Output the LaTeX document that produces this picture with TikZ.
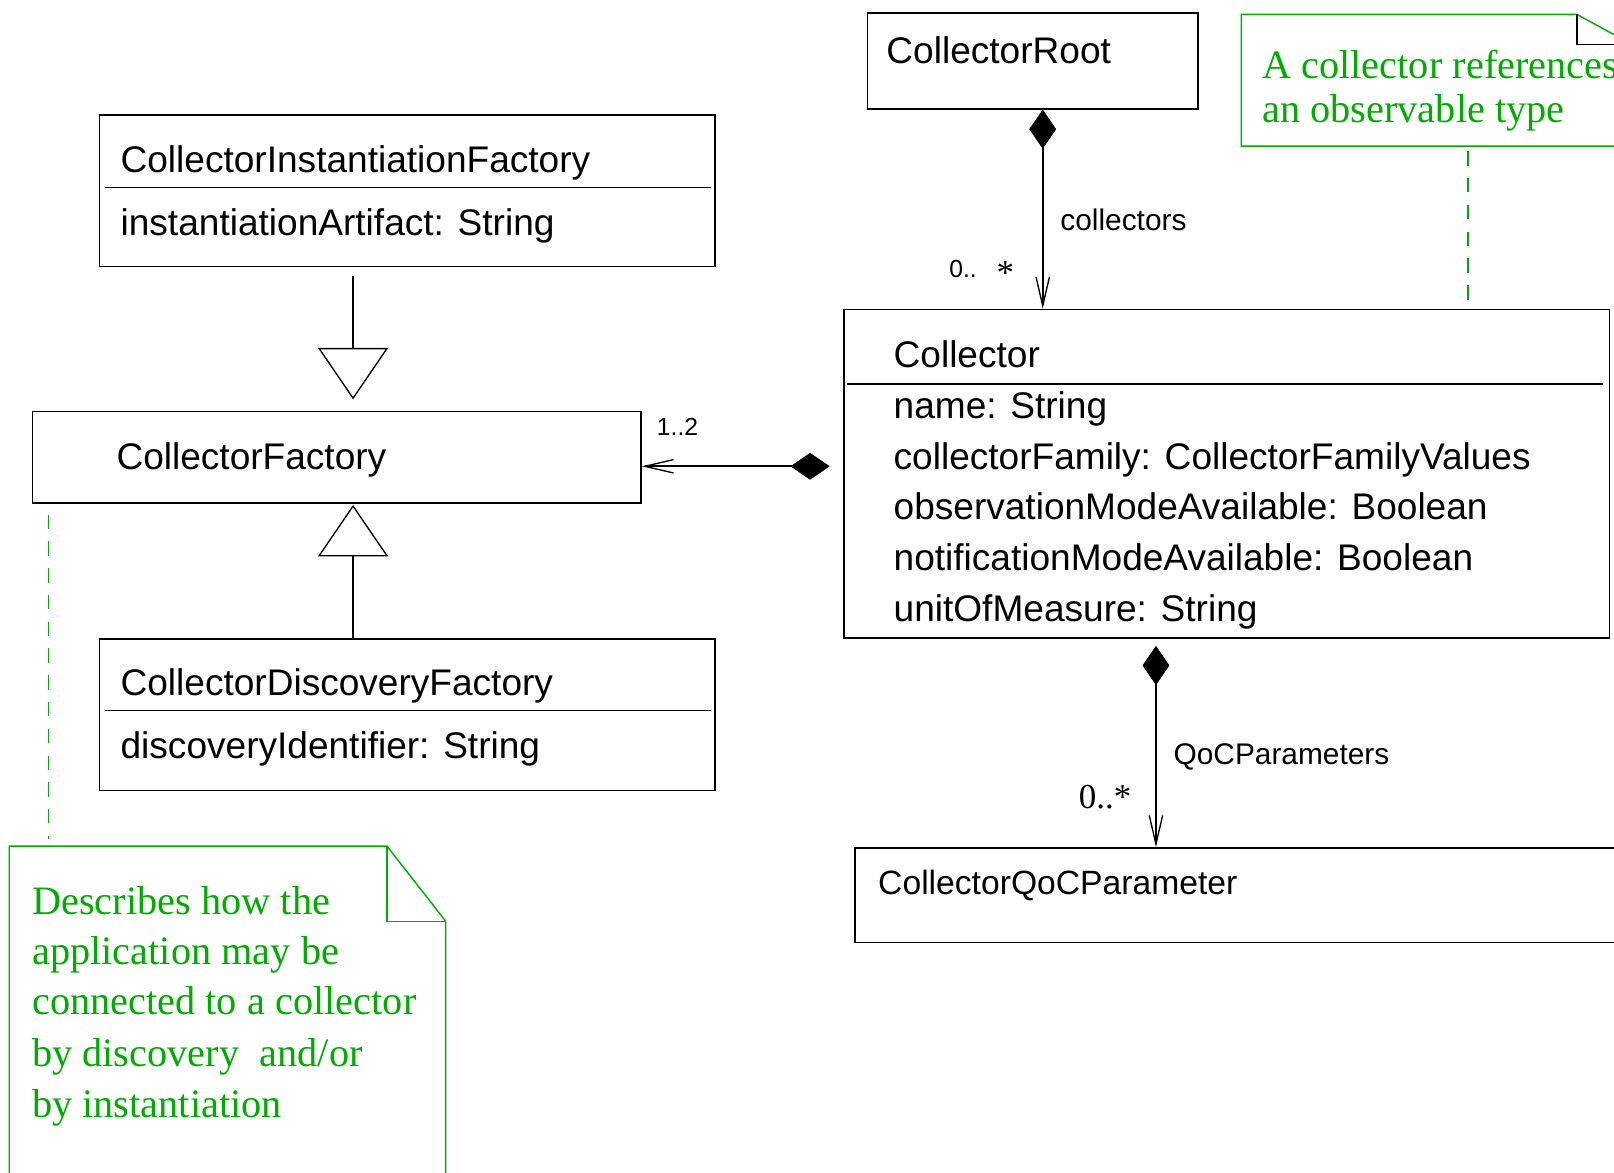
\documentclass[tikz,border=0pt]{standalone}
\usepackage{fontspec}
\setmainfont{Liberation Serif}
\setsansfont{Liberation Sans}
\usetikzlibrary{arrows.meta}
\definecolor{notegreen}{RGB}{0,172,0}
\begin{document}
\begin{tikzpicture}[x=1pt,y=-1pt,
  box/.style={draw, line width=1.5pt, inner sep=0pt, anchor=north west},
  cls/.style={anchor=base west, inner sep=0pt, font=\sffamily\fontsize{36}{40}\selectfont},
  qoc/.style={anchor=base west, inner sep=0pt, font=\sffamily\fontsize{32.7}{36}\selectfont},
  lbl/.style={anchor=base west, inner sep=0pt, font=\sffamily\fontsize{29}{32}\selectfont},
  mult/.style={anchor=base west, inner sep=0pt, font=\sffamily\fontsize{24}{28}\selectfont},
  smult/.style={anchor=base west, inner sep=0pt, font=\rmfamily\fontsize{34}{38}\selectfont},
  ntext/.style={anchor=base west, inner sep=0pt, text=notegreen, font=\rmfamily\fontsize{39.2}{43}\selectfont},
  sep/.style={line width=1.3pt},
  assoc/.style={line width=2.3pt, {Diamond[length=38pt,width=26pt,line width=0.5pt]}-{Straight Barb[length=28pt,width=13pt,line width=1.3pt]}},
  gen/.style={line width=1.3pt, -{Triangle[open,length=50pt,width=68pt,line width=1.3pt]}},
  notel/.style={draw=notegreen, line width=1.4pt},
  notedash/.style={draw=notegreen, line width=1.3pt, dash pattern=on 14pt off 12pt}
]
\useasboundingbox (0,0) rectangle (1568,1139);
\clip (0,0) rectangle (1568,1139);

% ---- class boxes ----
\node[box, minimum width=321pt, minimum height=93pt] (root) at (842,12) {};
\node[cls] (rootT) at (861,62) {CollectorRoot};

\node[box, minimum width=598pt, minimum height=147pt] (cif) at (96,111) {};
\draw[sep] (102,182) -- (691,182);
\node[cls] (cifT) at (117,168) {CollectorInstantiationFactory};
\node[cls] (cifA) at (117,229) {instantiationArtifact: String};

\node[box, minimum width=591pt, minimum height=89pt] (cf) at (31,399) {};
\node[cls] (cfT) at (113,456) {CollectorFactory};

\node[box, minimum width=598pt, minimum height=147pt] (cdf) at (96,620) {};
\draw[sep] (102,690) -- (691,690);
\node[cls] (cdfT) at (117,676) {CollectorDiscoveryFactory};
\node[cls] (cdfA) at (117,737) {discoveryIdentifier: String};

\node[box, minimum width=744pt, minimum height=319pt] (coll) at (819,300) {};
\draw[sep] (823,373) -- (1557,373);
\node[cls] (collT) at (868,357) {Collector};
\node[cls] (a1) at (868,407) {name: String};
\node[cls] (a2) at (868,456) {collectorFamily: CollectorFamilyValues};
\node[cls] (a3) at (868,505) {observationModeAvailable: Boolean};
\node[cls] (a4) at (868,554) {notificationModeAvailable: Boolean};
\node[cls] (a5) at (868,604) {unitOfMeasure: String};

\node[box, minimum width=790pt, minimum height=92pt] (qp) at (830,823) {};
\node[qoc] (qpT) at (853,869) {CollectorQoCParameter};

% ---- notes ----
\draw[notel] (1206,142) -- (1206,14) -- (1532,14) -- (1585,43) -- (1585,142) -- cycle;
\draw[line width=1.4pt] (1532,14) -- (1532,43) -- (1585,43);
\node[ntext] (n1a) at (1226,76) {A collector references};
\node[ntext] (n1b) at (1226,119) {an observable type};
\coordinate (n1c) at (1426,147);
\coordinate (n1d) at (1426,292);
\draw[notedash] (n1c) -- (n1d);

\draw[notel] (9,1150) -- (9,822) -- (376,822) -- (433,895) -- (433,1150);
\draw[notel] (376,822) -- (376,895) -- (433,895);
\node[ntext] (n2a) at (31,888) {Describes how the};
\node[ntext] (n2b) at (31,937) {application may be};
\node[ntext] (n2c) at (31,986) {connected to a collector};
\node[ntext] (n2d) at (31,1036) {by discovery \ and/or};
\node[ntext] (n2e) at (31,1086) {by instantiation};
\coordinate (n2c1) at (47,500);
\coordinate (n2c2) at (47,815);
\draw[notedash] (n2c1) -- (n2c2);

% ---- associations ----
\draw[assoc] (root.south -| 1013,0) -- (coll.north -| 1013,0);
\node[lbl] (lcoll) at (1030,224) {collectors};
\node[mult] (m1) at (922,270) {0..};
\node[smult] (m1s) at (968,276) {*};

\draw[assoc] (coll.west |- 0,453) ++(-13,0) -- (cf.east |- 0,453);
\node[mult] (m2) at (638,423) {1..2};

\draw[assoc, line width=1.7pt] (coll.south -| 1123,0) ++(0,7) -- (qp.north -| 1123,0);
\node[lbl] (lqp) at (1140,743) {QoCParameters};
\node[smult] (m3) at (1048,785) {0..*};

% ---- generalizations ----
\draw[gen, shorten <=9pt, shorten >=11pt] (cif.south -| 343,0) -- (cf.north -| 343,0);
\draw[gen, shorten >=1pt] (cdf.north -| 343,0) -- (cf.south -| 343,0);
\end{tikzpicture}
\end{document}
